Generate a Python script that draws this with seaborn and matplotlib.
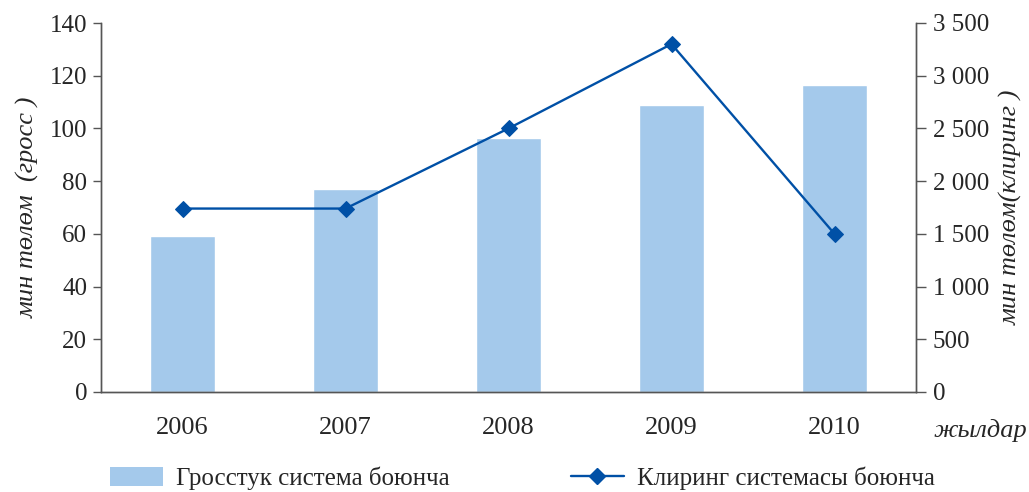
import matplotlib
matplotlib.use("Agg")
import matplotlib.pyplot as plt
from matplotlib.ticker import FuncFormatter, MultipleLocator
from matplotlib.patches import Patch
from matplotlib.lines import Line2D
import seaborn as sns
import pandas as pd

years = ["2006", "2007", "2008", "2009", "2010"]
gross_payments = [59.2, 77.0, 96.4, 109.0, 116.5]        # мин төлөм, гросс
clearing_payments = [1740, 1740, 2500, 3300, 1500]       # мин төлөм, клиринг

bar_label = "Гросстук система боюнча"
line_label = "Клиринг системасы боюнча"
left_ylabel = "мин төлөм  (гросс )"
right_ylabel = "мин төлөм(клиринг )"
x_note = "жылдар"

bar_color = "#A4C9EB"
line_color = "#0050A6"
axis_color = "#555555"

sns.set_theme(style="white")
plt.rcParams["font.family"] = ["Liberation Serif", "DejaVu Serif"]

fig = plt.figure(figsize=(10.29, 4.92), dpi=100)
ax = fig.add_axes([101 / 1029, 1 - 392 / 492, (916 - 101) / 1029, (392 - 23) / 492])

df = pd.DataFrame({"year": years, "gross": gross_payments, "clearing": clearing_payments})
sns.barplot(data=df, x="year", y="gross", color=bar_color, width=0.4,
            saturation=1, ax=ax)

ax2 = ax.twinx()
df["pos"] = range(len(years))
sns.lineplot(data=df, x="pos", y="clearing", color=line_color, linewidth=1.7,
             marker="D", markersize=8.5, markeredgecolor=line_color, ax=ax2)

ax.set_xlim(-0.5, len(years) - 0.5)
ax.set_ylim(0, 140)
ax.yaxis.set_major_locator(MultipleLocator(20))
ax2.set_ylim(0, 3500)
ax2.yaxis.set_major_locator(MultipleLocator(500))
ax2.yaxis.set_major_formatter(FuncFormatter(lambda v, p: f"{int(v):,}".replace(",", " ")))

for a in (ax, ax2):
    a.spines["top"].set_visible(False)
    for s in ("left", "right", "bottom"):
        a.spines[s].set_color(axis_color)
        a.spines[s].set_linewidth(1.0)
    a.grid(False)

ax.tick_params(axis="y", which="major", direction="out", length=6, width=1,
               color=axis_color, labelsize=18, pad=4, left=True)
ax.tick_params(axis="x", length=0, labelsize=19, pad=18)
ax2.tick_params(axis="y", which="major", direction="out", length=7, width=1,
                color=axis_color, labelsize=18, pad=5, right=True)
ax2.tick_params(axis="x", length=0, labelbottom=False)

ax.set_xlabel("")
ax2.set_xlabel("")
ax.set_ylabel(left_ylabel, fontsize=19, fontstyle="italic", labelpad=7)
ax2.set_ylabel(right_ylabel, fontsize=19, fontstyle="italic", rotation=90, labelpad=8)

fig.text(980 / 1029, 1 - 430 / 492, x_note, fontsize=19, fontstyle="italic",
         ha="center", va="center")

handles = [Patch(facecolor=bar_color, edgecolor="none"),
           Line2D([], [], color=line_color, linewidth=1.7, marker="D", markersize=8.5)]
fig.legend(handles, [bar_label, line_label], loc="center left",
           bbox_to_anchor=(110 / 1029, 1 - 478 / 492), ncol=2, frameon=False,
           fontsize=18, handlelength=2.1, handleheight=0.8, handletextpad=0.55,
           columnspacing=4.85, borderaxespad=0, borderpad=0)

fig.savefig("out.png", dpi=100)
